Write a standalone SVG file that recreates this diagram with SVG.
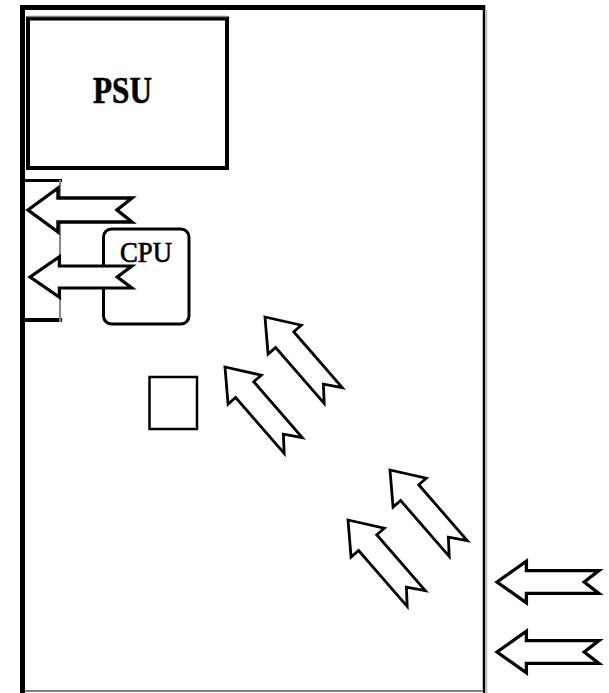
<svg xmlns="http://www.w3.org/2000/svg" xmlns:xlink="http://www.w3.org/1999/xlink" width="609" height="693" viewBox="0 0 609 693">
<style>
.box{fill:#fff;stroke:#000}
.arrow{fill:#fff;stroke:#000;stroke-width:3.4;stroke-linejoin:miter}
.diag{stroke-width:2.8}
.lbl{font-family:"Liberation Serif","Times New Roman",serif;fill:#000}
</style>
<defs>
<path id="air" d="M0,0 L30,-22 L30,-12 L104,-12 L89,0 L104,12 L30,12 L30,22 Z"/>
</defs>
<rect width="609" height="693" fill="#fff"/>
<g id="case">
<line x1="22.5" y1="5" x2="22.5" y2="693" stroke="#000" stroke-width="5"/>
<line x1="20" y1="7.5" x2="485" y2="7.5" stroke="#000" stroke-width="5"/>
<line x1="484" y1="5" x2="484" y2="693" stroke="#000" stroke-width="2.5"/>
<line x1="486.5" y1="10" x2="486.5" y2="693" stroke="#bbb" stroke-width="1.5"/>
<line x1="25" y1="691" x2="482" y2="691" stroke="#808080" stroke-width="2"/>
</g>
<g id="psu">
<rect class="box" x="28" y="18.5" width="199" height="149.5" stroke-width="4"/>
<line x1="28" y1="16.5" x2="227" y2="16.5" stroke="#808080" stroke-width="1.5"/>
<text class="lbl" x="93" y="103" font-size="38" font-weight="bold" stroke="#000" stroke-width="0.6" textLength="59" lengthAdjust="spacingAndGlyphs">PSU</text>
</g>
<g id="exhaust">
<rect x="25" y="181" width="35" height="138" fill="#fff" stroke="none"/>
<line x1="25" y1="180.5" x2="62" y2="180.5" stroke="#000" stroke-width="3"/>
<line x1="25" y1="320" x2="62" y2="320" stroke="#000" stroke-width="4"/>
<line x1="60" y1="180" x2="60" y2="322" stroke="#888" stroke-width="2"/>
</g>
<g id="cpu">
<rect class="box" x="103.5" y="229" width="85.5" height="95" rx="8" stroke-width="3"/>
<text class="lbl" x="120" y="262" font-size="29" stroke="#000" stroke-width="0.7" textLength="52" lengthAdjust="spacingAndGlyphs">CPU</text>
</g>
<g id="chip">
<rect class="box" x="149.5" y="377" width="47.5" height="52" stroke-width="2.5"/>
</g>
<g id="airflow">
<use xlink:href="#air" class="arrow" transform="translate(28,210)"/>
<use xlink:href="#air" class="arrow" transform="translate(30,277) scale(0.98,0.92)"/>
<use xlink:href="#air" class="arrow diag" transform="translate(265,317) rotate(49)"/>
<use xlink:href="#air" class="arrow diag" transform="translate(225,367) rotate(49)"/>
<use xlink:href="#air" class="arrow diag" transform="translate(390,470) rotate(49)"/>
<use xlink:href="#air" class="arrow diag" transform="translate(348,520) rotate(49)"/>
<use xlink:href="#air" class="arrow" transform="translate(497,582) scale(0.98,0.95)"/>
<use xlink:href="#air" class="arrow" transform="translate(497,652) scale(0.98,0.95)"/>
</g>
</svg>
